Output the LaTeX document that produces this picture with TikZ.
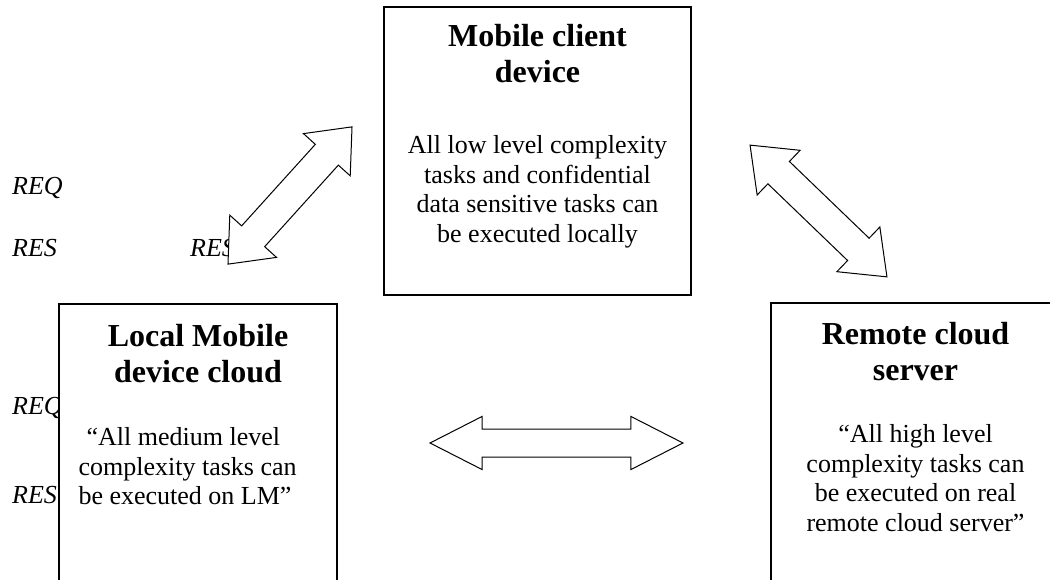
\documentclass[tikz,border=0pt]{standalone}
\usepackage{fontspec}
\setmainfont{Liberation Serif}
\usetikzlibrary{positioning,shapes.arrows}

\begin{document}
\begin{tikzpicture}[x=1pt, y=-1pt,
    box/.style={rectangle, draw, line width=1.3pt, fill=white},
    boxtitle/.style={font=\fontsize{32}{36}\selectfont\bfseries, align=center, inner sep=0pt},
    boxtext/.style={font=\fontsize{26}{29.5}\selectfont, align=center, inner sep=0pt},
    reqres/.style={font=\fontsize{26}{29.5}\selectfont\itshape, inner sep=0pt, anchor=base west},
    dblarrow/.style={double arrow, draw, line width=1pt, fill=white, inner xsep=0pt}]
    \useasboundingbox (0,0) rectangle (1050,580);

    %% REQ / RES labels, partly hidden behind boxes and arrows
    \node[reqres] (req1) at (12,195) {REQ};
    \node[reqres] (res1) at (12,257) {RES};
    \node[reqres] (res2) at (190,257) {RES};
    \node[reqres] (req2) at (12,414) {REQ};
    \node[reqres] (res3) at (12,503) {RES};

    %% Mobile client device
    \node[box, minimum width=307pt, minimum height=288pt] (mobile) at (537.5,151) {};
    \node[boxtitle, below=18pt of mobile.north] (mobiletitle) {Mobile client\\device};
    \node[boxtext, below=129pt of mobile.north] (mobiletext) {All low level complexity\\tasks and confidential\\data sensitive tasks can\\be executed locally};

    %% Local mobile device cloud
    \node[box, minimum width=278pt, minimum height=296pt] (lmdc) at (198,452) {};
    \node[boxtitle, below=21pt of lmdc.north] (lmdctitle) {Local Mobile\\device cloud};
    \node[boxtext, align=left, below right=124pt and 20pt of lmdc.north west] (lmdctext) {\hspace*{8pt}“All medium level\\complexity tasks can\\be executed on LM”};

    %% Remote cloud server
    \node[box, minimum width=289pt, minimum height=296pt] (remote) at (915.5,451) {};
    \node[boxtitle, below=20pt of remote.north] (remotetitle) {Remote cloud\\server};
    \node[boxtext, below=122pt of remote.north] (remotetext) {“All high level\\complexity tasks can\\be executed on real\\remote cloud server”};

    %% REQ/RES block arrows
    \node[dblarrow, inner ysep=15pt, minimum height=185pt, double arrow head extend=16pt, double arrow tip angle=80, rotate=47.9] (mlarrow) at (290,195.5) {};
    \node[dblarrow, inner ysep=15pt, minimum height=190pt, double arrow head extend=15.5pt, double arrow tip angle=76, rotate=-43.9] (mrarrow) at (818.5,211) {};
    \node[dblarrow, inner ysep=13.5pt, minimum height=253pt, double arrow head extend=12.5pt, double arrow tip angle=54] (lrarrow) at (556.5,443) {};
\end{tikzpicture}
\end{document}
